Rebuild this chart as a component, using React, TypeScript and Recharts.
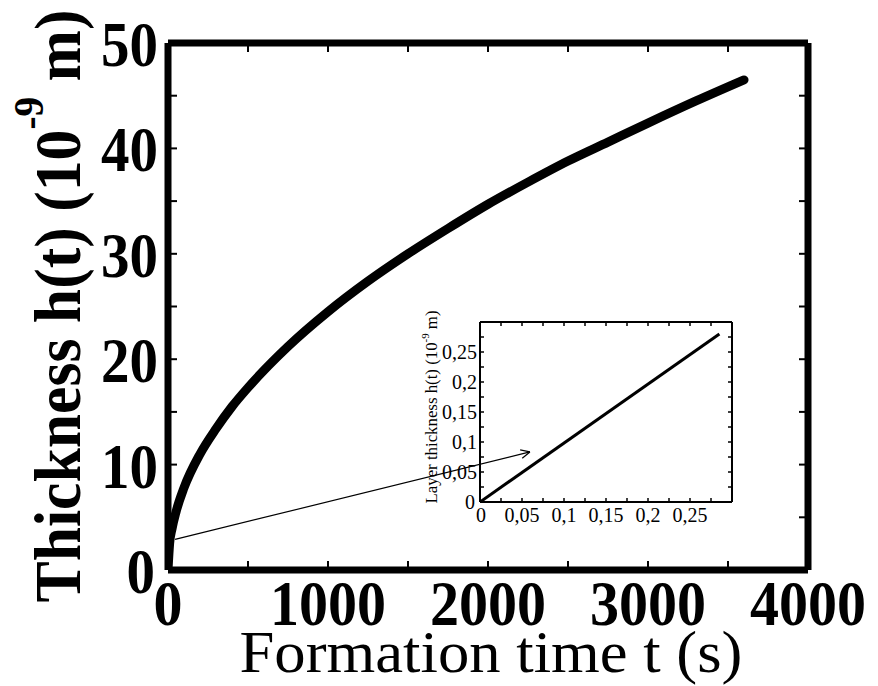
import React from "react";
import { LineChart, Line, XAxis, YAxis, ReferenceLine } from "recharts";

// main curve
const mainTime = [0, 10, 25, 50, 100, 200, 300, 400, 500, 750, 1000, 1250, 1500, 1750, 2000, 2250, 2500, 2750, 3000, 3300, 3600];
const mainThickness = [0, 2.5, 3.9, 5.5, 7.8, 11.0, 13.4, 15.5, 17.3, 21.2, 24.5, 27.4, 30.0, 32.4, 34.7, 36.8, 38.8, 40.6, 42.4, 44.5, 46.5];
const mainXTicks = [0, 500, 1000, 1500, 2000, 2500, 3000, 3500, 4000];
const mainYTicks = [0, 5, 10, 15, 20, 25, 30, 35, 40, 45, 50];

// inset (first 0.3 s)
const insetTime = [0, 0.285];
const insetThickness = [0, 0.28];
const insetTicks = [0, 0.025, 0.05, 0.075, 0.1, 0.125, 0.15, 0.175, 0.2, 0.225, 0.25, 0.275, 0.3];
const insetLabelValues = [0, 0.05, 0.1, 0.15, 0.2, 0.25];
const insetLabelText = ["0", "0,05", "0,1", "0,15", "0,2", "0,25"];

// arrow from the start of the curve to the inset
const arrowLine = [{ x: 44, y: 2.9 }, { x: 2262, y: 11.2 }];
const arrowHeadA = [{ x: 2201, y: 11.39 }, { x: 2262, y: 11.2 }];
const arrowHeadB = [{ x: 2214, y: 10.6 }, { x: 2262, y: 11.2 }];

const mainData = mainTime.map((t, i) => ({ t, h: mainThickness[i] }));
const insetData = insetTime.map((t, i) => ({ t, h: insetThickness[i] }));

const FONT = "'Liberation Serif', 'Times New Roman', serif";

const MainTick = (props: any) => {
  const { x, y, payload, side } = props;
  const v = payload.value;
  const len = 9;
  if (side === "bottom") {
    const show = v % 1000 === 0;
    const s = String(v);
    return (
      <g>
        <line x1={x} x2={x} y1={y} y2={y - len} stroke="#000" strokeWidth={2} />
        {show && (
          <text x={x} y={y + 55} textAnchor="middle" fontFamily={FONT} fontWeight="bold" fontSize={63}
            textLength={s.length * 29} lengthAdjust="spacingAndGlyphs" fill="#000">{s}</text>
        )}
      </g>
    );
  }
  if (side === "left") {
    const show = v % 10 === 0;
    const s = String(v);
    return (
      <g>
        <line x1={x} x2={x + len} y1={y} y2={y} stroke="#000" strokeWidth={2} />
        {show && (
          <text x={x - (v === 0 ? 13 : 10)} y={y + 23} textAnchor="end" fontFamily={FONT} fontWeight="bold" fontSize={63}
            textLength={s.length * 28.5} lengthAdjust="spacingAndGlyphs" fill="#000">{s}</text>
        )}
      </g>
    );
  }
  if (side === "top") {
    return <line x1={x} x2={x} y1={y} y2={y + len} stroke="#000" strokeWidth={2} />;
  }
  return <line x1={x} x2={x - len} y1={y} y2={y} stroke="#000" strokeWidth={2} />;
};

const insetLabel = (v: number) => {
  const i = insetLabelValues.findIndex((l) => Math.abs(l - v) < 1e-6);
  return i < 0 ? null : insetLabelText[i];
};

const InsetTick = (props: any) => {
  const { x, y, payload, side } = props;
  const v = payload.value;
  const len = 4;
  const lab = insetLabel(v);
  if (side === "bottom") {
    return (
      <g>
        <line x1={x} x2={x} y1={y} y2={y - len} stroke="#000" strokeWidth={1.5} />
        {lab && (
          <text x={x + (v === 0 ? 1 : 0)} y={y + 20} textAnchor="middle" fontFamily={FONT} fontSize={20} fill="#000">{lab}</text>
        )}
      </g>
    );
  }
  if (side === "left") {
    return (
      <g>
        <line x1={x} x2={x + len} y1={y} y2={y} stroke="#000" strokeWidth={1.5} />
        {lab && (
          <text x={x - (v === 0 ? 5 : 3)} y={y + 7} textAnchor="end" fontFamily={FONT} fontSize={20} fill="#000">{lab}</text>
        )}
      </g>
    );
  }
  if (side === "top") {
    return <line x1={x} x2={x} y1={y} y2={y + len} stroke="#000" strokeWidth={1.5} />;
  }
  return <line x1={x} x2={x - len} y1={y} y2={y} stroke="#000" strokeWidth={1.5} />;
};

const mainXLabel = () => (
  <text x={491} y={672} textAnchor="middle" fontFamily={FONT} fontSize={60}
    textLength={503} lengthAdjust="spacingAndGlyphs" fill="#000">Formation time t (s)</text>
);

const mainYLabel = () => (
  <text x={80} y={306} transform="rotate(-90 80 306)" textAnchor="middle" fontFamily={FONT} fontWeight="bold"
    fontSize={66} textLength={593} lengthAdjust="spacingAndGlyphs" fill="#000">
    Thickness h(t) (10<tspan fontSize={42} dy={-37}>-9</tspan><tspan dy={37}> m)</tspan>
  </text>
);

const insetXLabel = () => (
  <text x={606} y={575} textAnchor="middle" fontFamily={FONT} fontSize={20}
    textLength={160} lengthAdjust="spacingAndGlyphs" fill="#000">Formation time t(s)</text>
);

const insetYLabel = () => (
  <text x={37} y={107} transform="rotate(-90 37 107)" textAnchor="middle" fontFamily={FONT}
    fontSize={17} textLength={193} lengthAdjust="spacingAndGlyphs" fill="#000">
    Layer thickness h(t) (10<tspan fontSize={11} dy={-8}>-9</tspan><tspan dy={8}> m)</tspan>
  </text>
);

export default function App() {
  return (
    <div style={{ position: "absolute", left: 0, top: 0, width: 878, height: 686, background: "#fff" }}>
      <LineChart width={878} height={686} data={mainData} margin={{ top: 42, right: 69, left: 0, bottom: 0 }}>
        <XAxis dataKey="t" type="number" domain={[0, 4000]} allowDataOverflow ticks={mainXTicks} height={116}
          axisLine={{ stroke: "#000", strokeWidth: 7 }} tickLine={false} tickSize={0} tickMargin={0}
          tick={(p: any) => <MainTick {...p} side="bottom" />} label={mainXLabel} interval={0} />
        <XAxis xAxisId="top" dataKey="t" orientation="top" type="number" domain={[0, 4000]} allowDataOverflow ticks={mainXTicks} height={1}
          axisLine={{ stroke: "#000", strokeWidth: 7 }} tickLine={false} tickSize={0} tickMargin={0}
          tick={(p: any) => <MainTick {...p} side="top" />} interval={0} />
        <YAxis type="number" domain={[0, 50]} allowDataOverflow ticks={mainYTicks} width={168}
          axisLine={{ stroke: "#000", strokeWidth: 7 }} tickLine={false} tickSize={0} tickMargin={0}
          tick={(p: any) => <MainTick {...p} side="left" />} label={mainYLabel} interval={0} />
        <YAxis yAxisId="right" orientation="right" type="number" domain={[0, 50]} allowDataOverflow ticks={mainYTicks} width={1}
          axisLine={{ stroke: "#000", strokeWidth: 7 }} tickLine={false} tickSize={0} tickMargin={0}
          tick={(p: any) => <MainTick {...p} side="right" />} interval={0} />
        <ReferenceLine segment={arrowLine} stroke="#000" strokeWidth={1.2} ifOverflow="visible" />
        <ReferenceLine segment={arrowHeadA} stroke="#000" strokeWidth={1.2} ifOverflow="visible" />
        <ReferenceLine segment={arrowHeadB} stroke="#000" strokeWidth={1.2} ifOverflow="visible" />
        <Line dataKey="h" type="monotone" stroke="#000" strokeWidth={9} dot={false} strokeLinecap="round"
          isAnimationActive={false} />
      </LineChart>
      <div style={{ position: "absolute", left: 400, top: 300 }}>
        <LineChart width={340} height={290} data={insetData} margin={{ top: 21, right: 7, left: 0, bottom: 0 }}>
          <XAxis dataKey="t" type="number" domain={[0, 0.3]} allowDataOverflow ticks={insetTicks} height={88}
            axisLine={{ stroke: "#000", strokeWidth: 2 }} tickLine={false} tickSize={0} tickMargin={0}
            tick={(p: any) => <InsetTick {...p} side="bottom" />} label={insetXLabel} interval={0} />
          <XAxis xAxisId="top" dataKey="t" orientation="top" type="number" domain={[0, 0.3]} allowDataOverflow ticks={insetTicks} height={1}
            axisLine={{ stroke: "#000", strokeWidth: 2 }} tickLine={false} tickSize={0} tickMargin={0}
            tick={(p: any) => <InsetTick {...p} side="top" />} interval={0} />
          <YAxis type="number" domain={[0, 0.3]} allowDataOverflow ticks={insetTicks} width={80}
            axisLine={{ stroke: "#000", strokeWidth: 2 }} tickLine={false} tickSize={0} tickMargin={0}
            tick={(p: any) => <InsetTick {...p} side="left" />} label={insetYLabel} interval={0} />
          <YAxis yAxisId="right" orientation="right" type="number" domain={[0, 0.3]} allowDataOverflow ticks={insetTicks} width={1}
            axisLine={{ stroke: "#000", strokeWidth: 2 }} tickLine={false} tickSize={0} tickMargin={0}
            tick={(p: any) => <InsetTick {...p} side="right" />} interval={0} />
          <Line dataKey="h" type="linear" stroke="#000" strokeWidth={3} dot={false} isAnimationActive={false} />
        </LineChart>
      </div>
    </div>
  );
}
